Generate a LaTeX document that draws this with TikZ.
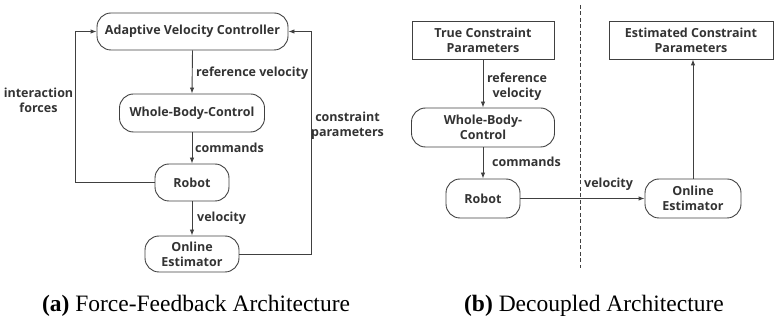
\documentclass[tikz,border=0pt]{standalone}
\usepackage{fontspec}
\setmainfont{Liberation Serif}
\newfontfamily\lab{Open Sans}
\usetikzlibrary{arrows.meta}
\definecolor{ln}{HTML}{404040}
\definecolor{tx}{HTML}{333333}
\begin{document}
\begin{tikzpicture}[x=1pt,y=-1pt,
 lf/.style={font=\lab\bfseries\fontsize{12.5}{15}\selectfont, text=tx},
 rbox/.style={lf, draw=ln, line width=0.9pt, rounded corners=14pt, align=center, inner sep=0pt},
 sbox/.style={lf, draw=ln, line width=0.9pt, align=center, inner sep=0pt},
 lbl/.style={lf, inner sep=0pt},
 arr/.style={draw=ln, line width=0.9pt, -{Latex[length=6pt,width=4.5pt]}},
 captxt/.style={font=\fontsize{23.5}{27}\selectfont, inner sep=0pt}]
\useasboundingbox (0,0) rectangle (774,320);
% (a)
\node[rbox, minimum width=191pt, minimum height=37pt] (avc) at (192.5,31.5) {Adaptive Velocity Controller};
\node[rbox, minimum width=145pt, minimum height=38pt] (wbc) at (192,113) {Whole-Body-Control};
\node[rbox, minimum width=74pt, minimum height=37pt] (rob) at (192,182.5) {Robot};
\node[rbox, minimum width=94pt, minimum height=36pt] (oe) at (192,254) {Online\\Estimator};
\coordinate (lx) at (75,0);
\coordinate (rx) at (311,0);
\draw[arr] (avc.south) -- (wbc.north);
\draw[arr] (wbc.south) -- (rob.north);
\draw[arr] (rob.south) -- (oe.north);
\draw[arr] (rob.west) -- (rob.west -| lx) -- (avc.west -| lx) -- (avc.west);
\draw[arr] (oe.east) -- (oe.east -| rx) -- (avc.east -| rx) -- (avc.east);
\node[lbl, anchor=west] (l1) at (196,73) {reference velocity};
\node[lbl, anchor=west] (l2) at (195,148) {commands};
\node[lbl, anchor=west] (l3) at (197,218) {velocity};
\node[lbl, align=center] (l4) at (38.5,100.5) {interaction\\forces};
\node[lbl, align=center] (l5) at (347.5,126) {constraint\\parameters};
\node[captxt] (ca) at (196,306) {\textbf{(a)} Force-Feedback Architecture};
% (b)
\node[sbox, minimum width=142pt, minimum height=38pt] (tcp) at (483,40) {True Constraint\\Parameters};
\node[rbox, minimum width=143pt, minimum height=39pt] (wbc2) at (483,127.5) {Whole-Body-\\Control};
\node[rbox, minimum width=74pt, minimum height=39pt] (rob2) at (483,198.5) {Robot};
\node[rbox, minimum width=96pt, minimum height=39pt] (oe2) at (693,198.5) {Online\\Estimator};
\node[sbox, minimum width=164pt, minimum height=38pt] (ecp) at (691,40) {Estimated Constraint\\Parameters};
\draw[arr] (tcp.south) -- (wbc2.north);
\draw[arr] (wbc2.south) -- (rob2.north);
\draw[arr] (rob2.east) -- (oe2.west);
\draw[arr] (oe2.north) -- (oe2.north |- ecp.south);
\coordinate (d1) at (580,5);
\coordinate (d2) at (580,268);
\draw[ln, line width=0.9pt, dash pattern=on 4pt off 2.5pt] (d1) -- (d2);
\node[lbl, align=center] (r1) at (517,86.5) {reference\\velocity};
\node[lbl, anchor=west] (r2) at (492,162) {commands};
\node[lbl, anchor=west] (r3) at (584,184) {velocity};
\node[captxt] (cb) at (594,306) {\textbf{(b)} Decoupled Architecture};
\end{tikzpicture}
\end{document}
